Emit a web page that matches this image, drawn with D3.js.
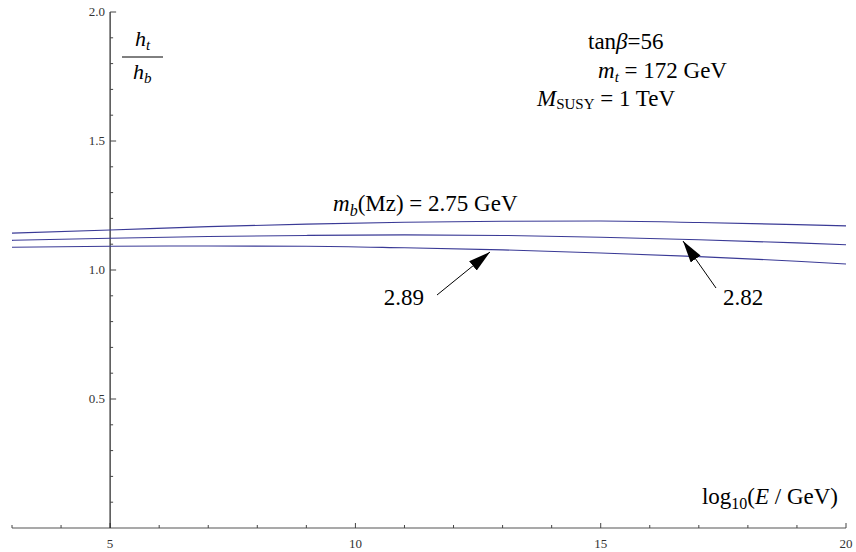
<!DOCTYPE html>
<html>
<head>
<meta charset="utf-8">
<style>
  body { margin: 0; background: #fff; }
  svg { font-family: "Liberation Serif", "Times New Roman", serif; }
  .tick text { font-size: 13px; fill: #333; }
  .note { font-size: 23px; }
</style>
<script src="https://d3js.org/d3.v7.min.js"></script>
</head>
<body>
<svg width="856" height="552"></svg>
<script>
// log10(E/GeV) sample points
var energies = [3, 5, 7, 9, 11, 13, 15, 17, 19, 20];
// h_t / h_b for each m_b(Mz)
var ratio275 = [1.143, 1.155, 1.168, 1.178, 1.185, 1.189, 1.190, 1.184, 1.176, 1.171];
var ratio282 = [1.115, 1.123, 1.130, 1.134, 1.136, 1.134, 1.127, 1.117, 1.105, 1.098];
var ratio289 = [1.088, 1.092, 1.093, 1.092, 1.086, 1.078, 1.066, 1.052, 1.034, 1.023];
var xTickLabels = [5, 10, 15, 20];
var yTickLabels = [0.5, 1.0, 1.5, 2.0];

var svg = d3.select("svg");
var x = d3.scaleLinear().domain([3, 20]).range([12, 846]);
var y = d3.scaleLinear().domain([0, 2]).range([528, 12]);

// x axis (crosses at y = 0)
var xAxis = svg.append("g")
  .attr("transform", "translate(0," + y(0) + ")");
xAxis.append("line")
  .attr("x1", x(3)).attr("x2", x(20))
  .attr("stroke", "#555").attr("stroke-width", 1.2);
xAxis.selectAll(".minor")
  .data(d3.range(3, 21))
  .enter().append("line")
  .attr("x1", d => x(d)).attr("x2", d => x(d))
  .attr("y1", 0).attr("y2", d => xTickLabels.includes(d) ? -5 : -3)
  .attr("stroke", "#444");
xAxis.selectAll(".tick")
  .data(xTickLabels)
  .enter().append("g").attr("class", "tick")
  .append("text")
  .attr("x", d => x(d)).attr("y", 20)
  .attr("text-anchor", "middle")
  .text(d => d);

// y axis (crosses at x = 5)
var yAxis = svg.append("g")
  .attr("transform", "translate(" + x(5) + ",0)");
yAxis.append("line")
  .attr("y1", y(0)).attr("y2", y(2))
  .attr("stroke", "#222").attr("stroke-width", 1.2);
yAxis.selectAll(".minor")
  .data(d3.range(1, 21).map(d => d / 10))
  .enter().append("line")
  .attr("y1", d => y(d)).attr("y2", d => y(d))
  .attr("x1", 0).attr("x2", d => Math.round(d * 10) % 5 == 0 ? 6 : 3)
  .attr("stroke", "#444");
yAxis.selectAll(".tick")
  .data(yTickLabels)
  .enter().append("g").attr("class", "tick")
  .append("text")
  .attr("x", -5).attr("y", d => y(d) + 4)
  .attr("text-anchor", "end")
  .text(d => d.toFixed(1));

// curves
var line = d3.line()
  .x(d => x(d[0])).y(d => y(d[1]))
  .curve(d3.curveMonotoneX);
[ratio275, ratio282, ratio289].forEach(function(vals) {
  svg.append("path")
    .datum(energies.map((e, i) => [e, vals[i]]))
    .attr("d", line)
    .attr("fill", "none")
    .attr("stroke", "#3a3a96")
    .attr("stroke-width", 1.1);
});

// arrows
svg.append("defs").append("marker")
  .attr("id", "head").attr("viewBox", "0 0 22 12")
  .attr("refX", 22).attr("refY", 6)
  .attr("markerWidth", 22).attr("markerHeight", 12)
  .attr("markerUnits", "userSpaceOnUse")
  .attr("orient", "auto")
  .append("path").attr("d", "M0,0 L22,6 L0,12 Z").attr("fill", "#000");

var arrows = [
  { from: [437, 295], to: [490, 252] },
  { from: [716, 288], to: [683, 241] }
];
svg.selectAll(".arrow")
  .data(arrows)
  .enter().append("line")
  .attr("x1", d => d.from[0]).attr("y1", d => d.from[1])
  .attr("x2", d => d.to[0]).attr("y2", d => d.to[1])
  .attr("stroke", "#000").attr("stroke-width", 1)
  .attr("marker-end", "url(#head)");

svg.append("text").attr("class", "note")
  .attr("x", 424).attr("y", 305).attr("text-anchor", "end").text("2.89");
svg.append("text").attr("class", "note")
  .attr("x", 723).attr("y", 305).text("2.82");

// m_b label
var mb = svg.append("text").attr("class", "note").attr("x", 333).attr("y", 211);
mb.append("tspan").attr("font-style", "italic").text("m");
mb.append("tspan").attr("font-style", "italic").attr("font-size", 16).attr("dy", 5).text("b");
mb.append("tspan").attr("dy", -5).text("(Mz) = 2.75 GeV");

// parameter block
var tb = svg.append("text").attr("class", "note").attr("x", 588).attr("y", 49);
tb.append("tspan").text("tan");
tb.append("tspan").attr("font-style", "italic").text("β");
tb.append("tspan").text("=56");

var mt = svg.append("text").attr("class", "note").attr("x", 598).attr("y", 78);
mt.append("tspan").attr("font-style", "italic").text("m");
mt.append("tspan").attr("font-style", "italic").attr("font-size", 15).attr("dy", 4).text("t");
mt.append("tspan").attr("dy", -4).text(" = 172 GeV");

var ms = svg.append("text").attr("class", "note").attr("x", 537).attr("y", 106);
ms.append("tspan").attr("font-style", "italic").text("M");
ms.append("tspan").attr("font-size", 15).attr("dy", 3).text("SUSY");
ms.append("tspan").attr("dy", -3).text(" = 1 TeV");

// axis label
var xl = svg.append("text").attr("class", "note").attr("x", 838).attr("y", 504)
  .attr("text-anchor", "end");
xl.append("tspan").text("log");
xl.append("tspan").attr("font-size", 16).attr("dy", 5).text("10");
xl.append("tspan").attr("dy", -5).text("(");
xl.append("tspan").attr("font-style", "italic").text("E");
xl.append("tspan").text(" / GeV)");

// h_t / h_b
var fr = svg.append("g").attr("class", "note");
var ht = fr.append("text").attr("x", 135).attr("y", 46).attr("font-size", 22);
ht.append("tspan").attr("font-style", "italic").text("h");
ht.append("tspan").attr("font-style", "italic").attr("font-size", 15).attr("dy", 4).text("t");
fr.append("line").attr("x1", 122).attr("x2", 163).attr("y1", 57).attr("y2", 57)
  .attr("stroke", "#000").attr("stroke-width", 1);
var hb = fr.append("text").attr("x", 133).attr("y", 79).attr("font-size", 22);
hb.append("tspan").attr("font-style", "italic").text("h");
hb.append("tspan").attr("font-style", "italic").attr("font-size", 15).attr("dy", 4).text("b");
</script>
</body>
</html>
